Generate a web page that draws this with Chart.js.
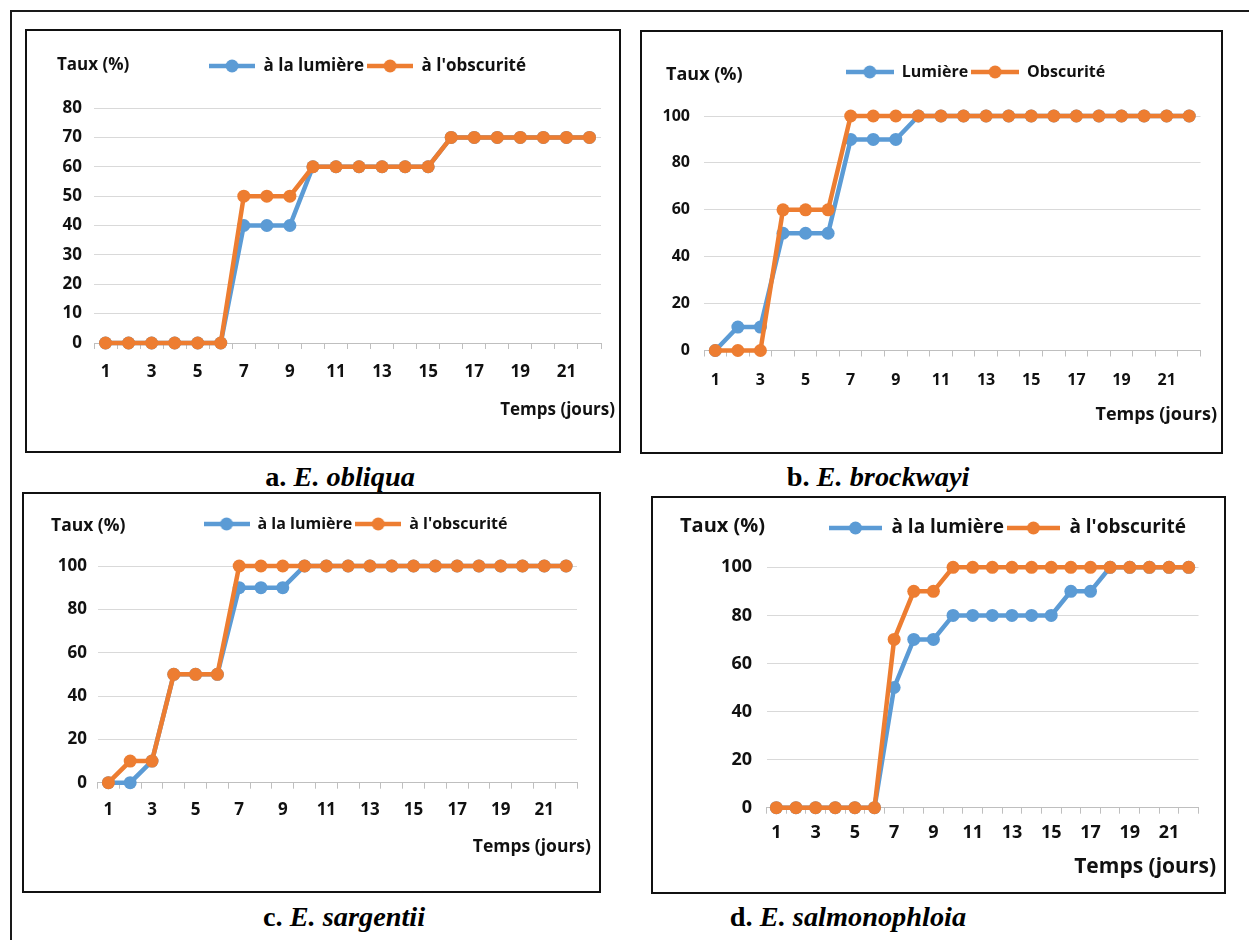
<!DOCTYPE html>
<html>
<head>
<meta charset="utf-8">
<script src="https://cdn.jsdelivr.net/npm/chart.js@4.4.1/dist/chart.umd.min.js"></script>
<style>
html, body { margin: 0; padding: 0; background: #fff; overflow: hidden; }
#page { position: relative; width: 1249px; height: 940px; overflow: hidden; font-family: 'Open Sans', sans-serif; }
#frame { position: absolute; left: 10px; top: 10px; width: 1300px; height: 1000px; border: 2px solid #1a1a1a; box-sizing: border-box; }
.box { position: absolute; border: 2px solid #111; box-sizing: border-box; background: #fff; }
.box canvas { position: absolute; left: 0; top: 0; }
.lbl { position: absolute; font-weight: 700; color: #111; line-height: 1; white-space: nowrap; transform: translateY(-50%); }
.cap { position: absolute; font-family: 'Liberation Serif', 'Times New Roman', serif; font-weight: 700; font-size: 27px; line-height: 1; white-space: nowrap; transform: translate(-50%, -50%) scaleX(1.05); }
</style>
</head>
<body>
<div id="page"><div id="frame"></div></div>
<script>
// jours 1..22
var days = ['1','2','3','4','5','6','7','8','9','10','11','12','13','14','15','16','17','18','19','20','21','22'];

// a. E. obliqua
var taLum = [0,0,0,0,0,0,40,40,40,60,60,60,60,60,60,70,70,70,70,70,70,70];
var taObs = [0,0,0,0,0,0,50,50,50,60,60,60,60,60,60,70,70,70,70,70,70,70];
// b. E. brockwayi
var tbLum = [0,10,10,50,50,50,90,90,90,100,100,100,100,100,100,100,100,100,100,100,100,100];
var tbObs = [0,0,0,60,60,60,100,100,100,100,100,100,100,100,100,100,100,100,100,100,100,100];
// c. E. sargentii
var tcLum = [0,0,10,50,50,50,90,90,90,100,100,100,100,100,100,100,100,100,100,100,100,100];
var tcObs = [0,10,10,50,50,50,100,100,100,100,100,100,100,100,100,100,100,100,100,100,100,100];
// d. E. salmonophloia
var tdLum = [0,0,0,0,0,0,50,70,70,80,80,80,80,80,80,90,90,100,100,100,100,100];
var tdObs = [0,0,0,0,0,0,70,90,90,100,100,100,100,100,100,100,100,100,100,100,100,100];

var namesA = ['à la lumière', "à l'obscurité"];
var namesB = ['Lumière', 'Obscurité'];

var blue = '#5B9BD5';
var orange = '#ED7D31';

// page layout of each panel (box, plot area, text positions)
var panels = [
  { box: [25, 29, 596, 424], lum: taLum, obs: taObs, names: namesA, yMax: 80, yStep: 10,
    plot: [94, 601, 108, 343], legendX: 367.5, legendY: 66, fs: 17, legFs: 17, markW: 46, yPad: 12, xPad: 13,
    taux: [57, 63, 17], temps: [615, 408, 17], cap: ['a.', 'E. obliqua', 339.5, 477] },
  { box: [640, 30, 583, 424], lum: tbLum, obs: tbObs, names: namesB, yMax: 100, yStep: 20,
    plot: [704, 1200.5, 116, 350.5], legendX: 975.5, legendY: 72, fs: 16, legFs: 16, markW: 48, yPad: 14, xPad: 14,
    taux: [666, 73, 18], temps: [1217, 413, 18], cap: ['b.', 'E. brockwayi', 877.5, 477] },
  { box: [22, 492, 579, 401], lum: tcLum, obs: tcObs, names: namesA, yMax: 100, yStep: 20,
    plot: [97.5, 577, 566, 782.7], legendX: 355.5, legendY: 524, fs: 17, legFs: 16, markW: 46, yPad: 10.5, xPad: 11,
    taux: [51, 525, 17.5], temps: [591, 846, 17.5], cap: ['c.', 'E. sargentii', 343.5, 917] },
  { box: [651, 496, 575, 398], lum: tdLum, obs: tdObs, names: namesA, yMax: 100, yStep: 20,
    plot: [766.5, 1198.5, 567.3, 807.7], legendX: 1007.5, legendY: 528, fs: 18, legFs: 19, markW: 53, yPad: 14.5, xPad: 8.5,
    taux: [680, 525, 20], temps: [1216, 865, 21], cap: ['d.', 'E. salmonophloia', 847.5, 917] }
];

Chart.defaults.font.family = "'Open Sans', sans-serif";
Chart.defaults.font.weight = 'bold';
Chart.defaults.color = '#111';
Chart.defaults.animation = false;

// legend height and horizontal position like the original
Chart.register({
  id: 'panelLayout',
  beforeLayout: function (chart, args, opts) {
    var lg = chart.legend;
    if (lg && !lg._patched) {
      var fit = lg.fit;
      lg.fit = function () { fit.call(this); this.height = opts.legendHeight; };
      lg._patched = true;
    }
  },
  afterLayout: function (chart, args, opts) {
    var lg = chart.legend;
    var dx = opts.legendCenter - (lg.left + lg.right) / 2;
    lg.left += dx;
    lg.right += dx;
  }
});

function legendMark(color, w) {
  var c = document.createElement('canvas');
  c.width = w; c.height = 14;
  var g = c.getContext('2d');
  g.strokeStyle = color; g.lineWidth = 4.5;
  g.beginPath(); g.moveTo(0, 7); g.lineTo(w, 7); g.stroke();
  g.fillStyle = color;
  g.beginPath(); g.arc(w / 2, 7, 6.5, 0, Math.PI * 2); g.fill();
  return c;
}

var page = document.getElementById('page');

function addText(cls, html, css) {
  var d = document.createElement('div');
  d.className = cls;
  d.innerHTML = html;
  Object.assign(d.style, css);
  page.appendChild(d);
}

panels.forEach(function (p) {
  var x0 = p.box[0] + 2, y0 = p.box[1] + 2, W = p.box[2] - 4, H = p.box[3] - 4;
  var yWidth = p.plot[0] - x0;
  var padRight = x0 + W - p.plot[1];
  var xHeight = y0 + H - p.plot[3];
  var padTop = p.legendY - y0 - 3 - p.legFs / 2;
  var legendHeight = p.plot[2] - y0 - padTop;

  var box = document.createElement('div');
  box.className = 'box';
  box.style.left = p.box[0] + 'px';
  box.style.top = p.box[1] + 'px';
  box.style.width = p.box[2] + 'px';
  box.style.height = p.box[3] + 'px';
  var cv = document.createElement('canvas');
  cv.width = W; cv.height = H;
  box.appendChild(cv);
  page.appendChild(box);

  var marks = [legendMark(blue, p.markW), legendMark(orange, p.markW)];

  new Chart(cv, {
    type: 'line',
    data: {
      labels: days,
      datasets: [
        { label: p.names[0], data: p.lum, borderColor: blue, backgroundColor: blue, pointBackgroundColor: blue,
          borderWidth: 4.5, pointRadius: 6.5, pointBorderWidth: 0, tension: 0, clip: false, order: 2 },
        { label: p.names[1], data: p.obs, borderColor: orange, backgroundColor: orange, pointBackgroundColor: orange,
          borderWidth: 4.5, pointRadius: 6.5, pointBorderWidth: 0, tension: 0, clip: false, order: 1 }
      ]
    },
    options: {
      responsive: false,
      events: [],
      layout: { padding: { top: padTop, left: 0, right: padRight, bottom: 0 } },
      plugins: {
        tooltip: { enabled: false },
        legend: {
          position: 'top',
          labels: {
            usePointStyle: true,
            pointStyleWidth: p.markW,
            padding: 3,
            color: '#111',
            font: { size: p.legFs, weight: 'bold' },
            generateLabels: function (chart) {
              return Chart.defaults.plugins.legend.labels.generateLabels(chart).map(function (l) {
                l.pointStyle = marks[l.datasetIndex];
                return l;
              });
            },
            sort: function (a, b) { return a.datasetIndex - b.datasetIndex; }
          }
        },
        panelLayout: { legendHeight: legendHeight, legendCenter: p.legendX - x0 }
      },
      scales: {
        x: {
          offset: true,
          grid: { offset: true, drawOnChartArea: false, drawTicks: true, tickLength: 6, color: '#bfbfbf' },
          border: { display: true, color: '#bfbfbf' },
          ticks: {
            autoSkip: false, maxRotation: 0, padding: p.xPad, font: { size: p.fs },
            callback: function (v, i) { return i % 2 === 0 ? days[i] : ''; }
          },
          afterFit: function (s) { s.height = xHeight; }
        },
        y: {
          min: 0, max: p.yMax,
          ticks: { stepSize: p.yStep, padding: p.yPad, font: { size: p.fs } },
          grid: { color: '#d9d9d9', drawTicks: false },
          border: { display: false },
          afterFit: function (s) { s.width = yWidth; }
        }
      }
    }
  });

  addText('lbl', 'Taux (%)', { left: p.taux[0] + 'px', top: p.taux[1] + 'px', fontSize: p.taux[2] + 'px' });
  addText('lbl', 'Temps (jours)', { right: (1249 - p.temps[0]) + 'px', top: p.temps[1] + 'px', fontSize: p.temps[2] + 'px' });
  addText('cap', p.cap[0] + ' <i>' + p.cap[1] + '</i>', { left: p.cap[2] + 'px', top: p.cap[3] + 'px' });
});
</script>
</body>
</html>
